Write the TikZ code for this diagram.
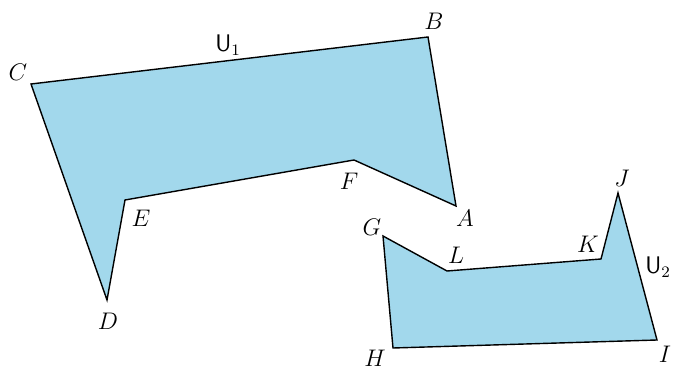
\documentclass[tikz,border=0pt]{standalone}
\usepackage{amsmath,amssymb}
\usepackage{xcolor}
\usepackage{tikz}
\usetikzlibrary{positioning}
\definecolor{regblue}{RGB}{162,216,236}

\begin{document}
\begin{tikzpicture}[x=0.5pt, y=-0.5pt, every node/.style={inner sep=1pt, font=\large},
    region/.style={draw=black, fill=regblue, line width=0.7pt, line join=miter}]
    \useasboundingbox (0,0) rectangle (674,368);
    % first region
    \coordinate (C) at (31,84);
    \coordinate (B) at (428,37);
    \coordinate (A) at (456,206);
    \coordinate (F) at (354,160);
    \coordinate (E) at (125,200);
    \coordinate (D) at (107,300);
    % second region
    \coordinate (G) at (383,236);
    \coordinate (L) at (447,271);
    \coordinate (K) at (601,259);
    \coordinate (J) at (618,193);
    \coordinate (I) at (657,340);
    \coordinate (H) at (393,348);

    \draw[region] (C) -- (B) -- (A) -- (F) -- (E) -- (D) -- cycle;
    \draw[region] (G) -- (L) -- (K) -- (J) -- (I) -- (H) -- cycle;

    \node (lc) at (18,72) {$C$};
    \node (lb) at (434,21) {$B$};
    \node (la) at (465,218) {$A$};
    \node (lf) at (349,181) {$F$};
    \node (le) at (141,218) {$E$};
    \node (ld) at (108,321) {$D$};
    \node (lg) at (372,227) {$G$};
    \node (ll) at (456,255) {$L$};
    \node (lk) at (588,244) {$K$};
    \node (lj) at (622,178) {$J$};
    \node (lh) at (375,358) {$H$};
    \node (li) at (665,354) {$I$};
    \node (u1) at (228,45) {$\mathsf{U}_1$};
    \node (u2) at (658,267) {$\mathsf{U}_2$};
\end{tikzpicture}
\end{document}
